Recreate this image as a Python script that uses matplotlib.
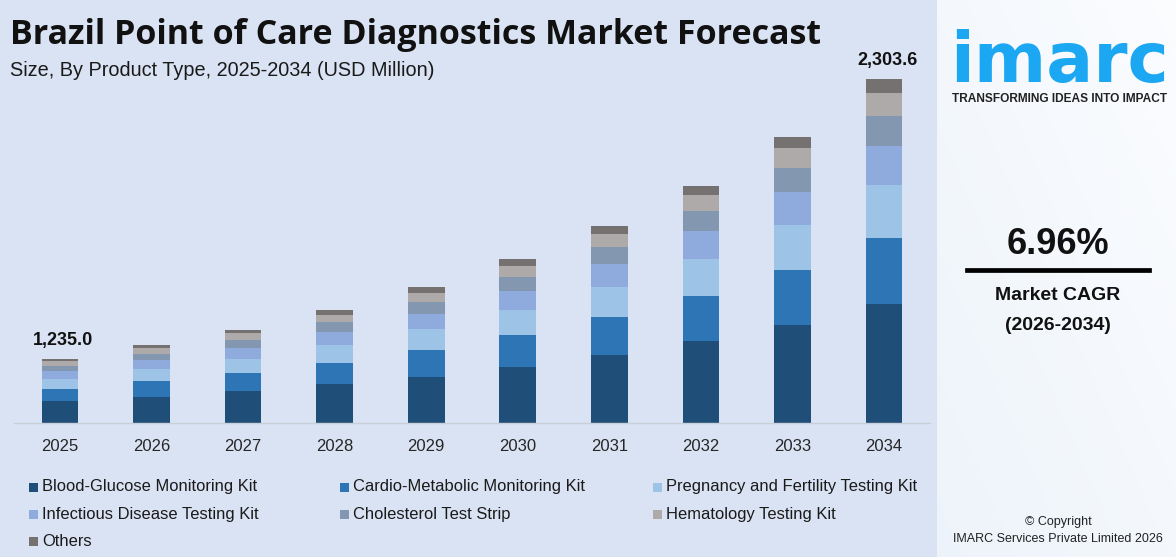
import matplotlib
matplotlib.use("Agg")
import matplotlib.pyplot as plt
import numpy as np
from matplotlib.patches import Rectangle

W, H = 1176, 557

# ---------------- data ----------------
years = ["2025", "2026", "2027", "2028", "2029", "2030", "2031", "2032", "2033", "2034"]
blood_glucose = [147.3, 174.1, 214.3, 261.2, 308.0, 375.0, 455.4, 549.1, 656.3, 796.9]
cardio_metabolic = [80.4, 107.1, 120.5, 140.6, 180.8, 214.3, 254.5, 301.3, 368.3, 442.0]
pregnancy_fertility = [67.0, 80.4, 93.8, 120.5, 140.6, 167.4, 200.9, 247.8, 301.3, 354.9]
infectious_disease = [53.6, 60.3, 73.7, 87.1, 100.4, 127.2, 154.0, 187.5, 221.0, 261.2]
cholesterol_strip = [33.5, 40.2, 53.6, 67.0, 80.4, 93.8, 113.8, 133.9, 160.7, 200.9]
hematology = [33.5, 40.2, 46.9, 46.9, 60.3, 73.7, 87.1, 107.1, 133.9, 154.0]
others = [13.4, 20.1, 20.1, 33.5, 40.2, 46.9, 53.6, 60.3, 73.7, 93.8]

series_names = [
    "Blood-Glucose Monitoring Kit",
    "Cardio-Metabolic Monitoring Kit",
    "Pregnancy and Fertility Testing Kit",
    "Infectious Disease Testing Kit",
    "Cholesterol Test Strip",
    "Hematology Testing Kit",
    "Others",
]
series_colors = ["#1f4e79", "#2e75b6", "#9dc3e6", "#8faadc", "#8497b0", "#aeaaaa", "#767171"]

first_year_total = 1235.0
last_year_total = 2303.6
cagr_text = "6.96%"

series = [blood_glucose, cardio_metabolic, pregnancy_fertility, infectious_disease,
          cholesterol_strip, hematology, others]

# ---------------- figure ----------------
BG = "#dae3f3"
fig = plt.figure(figsize=(W / 100, H / 100), dpi=100, facecolor=BG)
FONT = "Liberation Sans"


def fx(px):
    return px / W


def fy(py):
    return 1 - py / H


# main axes
left_px, right_px, base_px, top_px = 14.25, 929.75, 423, 60
ax = fig.add_axes([fx(left_px), fy(base_px), fx(right_px - left_px), (base_px - top_px) / H])
ax.set_facecolor("none")
x = np.arange(len(years))
bottom = np.zeros(len(years))
for vals, name, col in zip(series, series_names, series_colors):
    ax.bar(x, vals, width=0.4, bottom=bottom, color=col, label=name, linewidth=0)
    bottom = bottom + np.array(vals)

ax.set_xlim(-0.5, len(years) - 0.5)
ax.set_ylim(0, 2431)
for s in ["top", "right", "left"]:
    ax.spines[s].set_visible(False)
ax.spines["bottom"].set_color("#c9cfd9")
ax.spines["bottom"].set_linewidth(1.0)
ax.set_yticks([])
ax.set_xticks(x)
ax.set_xticklabels(years, fontsize=12, color="#262626", fontfamily=FONT)
ax.tick_params(axis="x", length=0, pad=11.5)

ax.annotate(f"{first_year_total:,.1f}", (x[0], bottom[0]), xytext=(2.5, 7),
            textcoords="offset points", ha="center", va="bottom",
            fontsize=13, fontweight="bold", color="#111111", fontfamily=FONT)
ax.annotate(f"{last_year_total:,.1f}", (x[-1], bottom[-1]), xytext=(2.5, 7),
            textcoords="offset points", ha="center", va="bottom",
            fontsize=13, fontweight="bold", color="#111111", fontfamily=FONT)

# titles
fig.text(fx(10), fy(35.5), "Brazil Point of Care Diagnostics Market Forecast", fontsize=24.5,
         fontweight="bold", color="#111111", va="center", ha="left", fontfamily="Open Sans")
fig.text(fx(10), fy(70), "Size, By Product Type, 2025-2034 (USD Million)", fontsize=14.3,
         color="#1a1a1a", va="center", ha="left", fontfamily=FONT)

# legend (manual grid)
col_x = [29, 340, 653]
row_y = [487, 514, 541]
for i, (name, col) in enumerate(zip(series_names, series_colors)):
    r, c = divmod(i, 3)
    fig.patches.append(Rectangle((fx(col_x[c]), fy(row_y[r] + 4.5)), fx(9), 9 / H,
                                 transform=fig.transFigure, facecolor=col,
                                 edgecolor="none"))
    fig.text(fx(col_x[c] + 13), fy(row_y[r]), name, fontsize=11.9, color="#1a1a1a",
             va="center", ha="left", fontfamily=FONT)

# right panel
pax = fig.add_axes([fx(937), 0, fx(W - 937), 1])
grad = np.linspace(0, 1, 256)
gx, gy = np.meshgrid(grad, grad)
t = 0.5 * gx + 0.5 * (1 - gy)
c0 = np.array([0.93, 0.955, 0.98])
c1 = np.array([0.985, 0.99, 1.0])
img = c0 * (1 - t[..., None]) + c1 * t[..., None]
pax.imshow(img, aspect="auto", extent=[0, 1, 0, 1])
pax.set_xlim(0, 1)
pax.set_ylim(0, 1)
pax.axis("off")

cx = 1058
fig.text(fx(1060), fy(82), "imarc", fontsize=50, fontweight="bold", color="#1ca7f2",
         ha="center", va="baseline", fontfamily="DejaVu Sans")
fig.text(fx(1060), fy(99), "TRANSFORMING IDEAS INTO IMPACT", fontsize=8.6,
         fontweight="bold", color="#222222", ha="center", va="center", fontfamily=FONT)
fig.text(fx(cx), fy(244), cagr_text, fontsize=26, fontweight="bold", color="#111111",
         ha="center", va="center", fontfamily=FONT)
fig.add_artist(plt.Line2D([fx(967), fx(1149)], [fy(270), fy(270)], color="#000000",
                          linewidth=3.4, transform=fig.transFigure))
fig.text(fx(cx), fy(296), "Market CAGR", fontsize=14, fontweight="bold", color="#111111",
         ha="center", va="center", fontfamily=FONT)
fig.text(fx(cx), fy(325), "(2026-2034)", fontsize=14, fontweight="bold", color="#111111",
         ha="center", va="center", fontfamily=FONT)
fig.text(fx(cx), fy(522), "\u00a9 Copyright", fontsize=9, color="#222222",
         ha="center", va="center", fontfamily=FONT)
fig.text(fx(cx), fy(539), "IMARC Services Private Limited 2026", fontsize=9,
         color="#222222", ha="center", va="center", fontfamily=FONT)

fig.savefig("out.png", dpi=100, facecolor=BG)
